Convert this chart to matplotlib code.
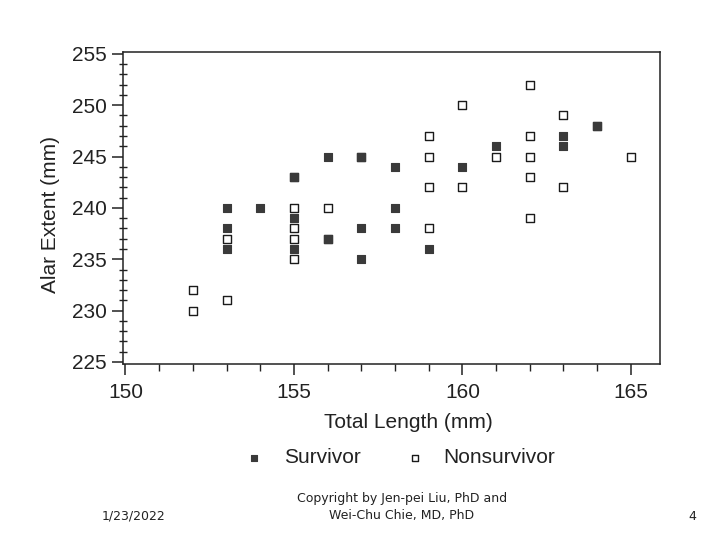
import matplotlib
matplotlib.use("Agg")
import matplotlib.pyplot as plt
from matplotlib.ticker import MultipleLocator

# Bumpus sparrow data: total length (mm) and alar extent (mm)
surv_length = [156, 154, 153, 153, 155, 163, 157, 155, 164, 158, 158, 160, 161,
               157, 157, 156, 158, 153, 155, 163, 159]
surv_alar = [245, 240, 240, 236, 243, 247, 238, 239, 248, 238, 240, 244, 246,
             245, 235, 237, 244, 238, 236, 246, 236]

nons_length = [155, 156, 160, 152, 160, 155, 157, 165, 153, 162, 162, 159, 159,
               155, 162, 152, 159, 155, 163, 163, 156, 159, 161, 155, 162, 153,
               162, 164]
nons_alar = [240, 240, 242, 232, 250, 237, 245, 245, 231, 239, 243, 245, 247,
             243, 252, 230, 242, 238, 249, 242, 237, 238, 245, 235, 247, 237,
             245, 248]

x_ticks = [150, 155, 160, 165]
y_ticks = [225, 230, 235, 240, 245, 250, 255]

plt.rcParams['font.family'] = ['Liberation Sans', 'DejaVu Sans']

fig = plt.figure(figsize=(7.2, 5.4), dpi=100)
fig.patch.set_facecolor('white')
ax = fig.add_axes([0.171, 0.326, 0.745, 0.578])

ax.scatter(nons_length, nons_alar, marker='s', s=30, facecolors='white',
           edgecolors='#1a1a1a', linewidths=1.0, zorder=2, label='Nonsurvivor')
ax.scatter(surv_length, surv_alar, marker='s', s=30, facecolors='#3a3a3a',
           edgecolors='#3a3a3a', linewidths=0.8, zorder=3, label='Survivor')

ax.set_xlim(149.93, 165.85)
ax.set_ylim(224.8, 255.2)
ax.set_xticks(x_ticks)
ax.set_yticks(y_ticks)
ax.xaxis.set_minor_locator(MultipleLocator(1))
ax.yaxis.set_minor_locator(MultipleLocator(1))

for s in ax.spines.values():
    s.set_linewidth(1.1)
    s.set_color('#222222')

ax.tick_params(axis='both', which='major', direction='out', length=8, width=1.1,
               labelsize=15, colors='#222222')
ax.tick_params(axis='x', which='minor', direction='out', length=5, width=1.0,
               colors='#222222')
ax.tick_params(axis='y', which='minor', direction='inout', length=6, width=1.0,
               colors='#222222')
ax.tick_params(axis='x', which='major', pad=6)
ax.tick_params(axis='y', which='major', pad=4)

ax.set_xlabel('Total Length (mm)', fontsize=15, color='#222222')
ax.set_ylabel('Alar Extent (mm)', fontsize=15, color='#222222')
ax.xaxis.set_label_coords(0.531, -0.157)
ax.yaxis.set_label_coords(-0.118, 0.478)

handles, labels = ax.get_legend_handles_labels()
order = [1, 0]
leg = fig.legend([handles[i] for i in order], [labels[i] for i in order],
                 loc='center', bbox_to_anchor=(0.548, 0.152), ncol=2,
                 frameon=False, fontsize=15, markerscale=0.8,
                 handletextpad=0.4, columnspacing=1.6)
for t in leg.get_texts():
    t.set_color('#222222')

fig.text(0.185, 0.044, '1/23/2022', fontsize=9, ha='center', va='center',
         color='#222222', family=['DejaVu Sans'])
fig.text(0.558, 0.061, 'Copyright by Jen-pei Liu, PhD and\nWei-Chu Chie, MD, PhD',
         fontsize=9, ha='center', va='center', color='#222222',
         linespacing=1.4, family=['DejaVu Sans'])
fig.text(0.962, 0.044, '4', fontsize=9, ha='center', va='center',
         color='#222222', family=['DejaVu Sans'])

fig.savefig('out.png', dpi=100, facecolor='white')
